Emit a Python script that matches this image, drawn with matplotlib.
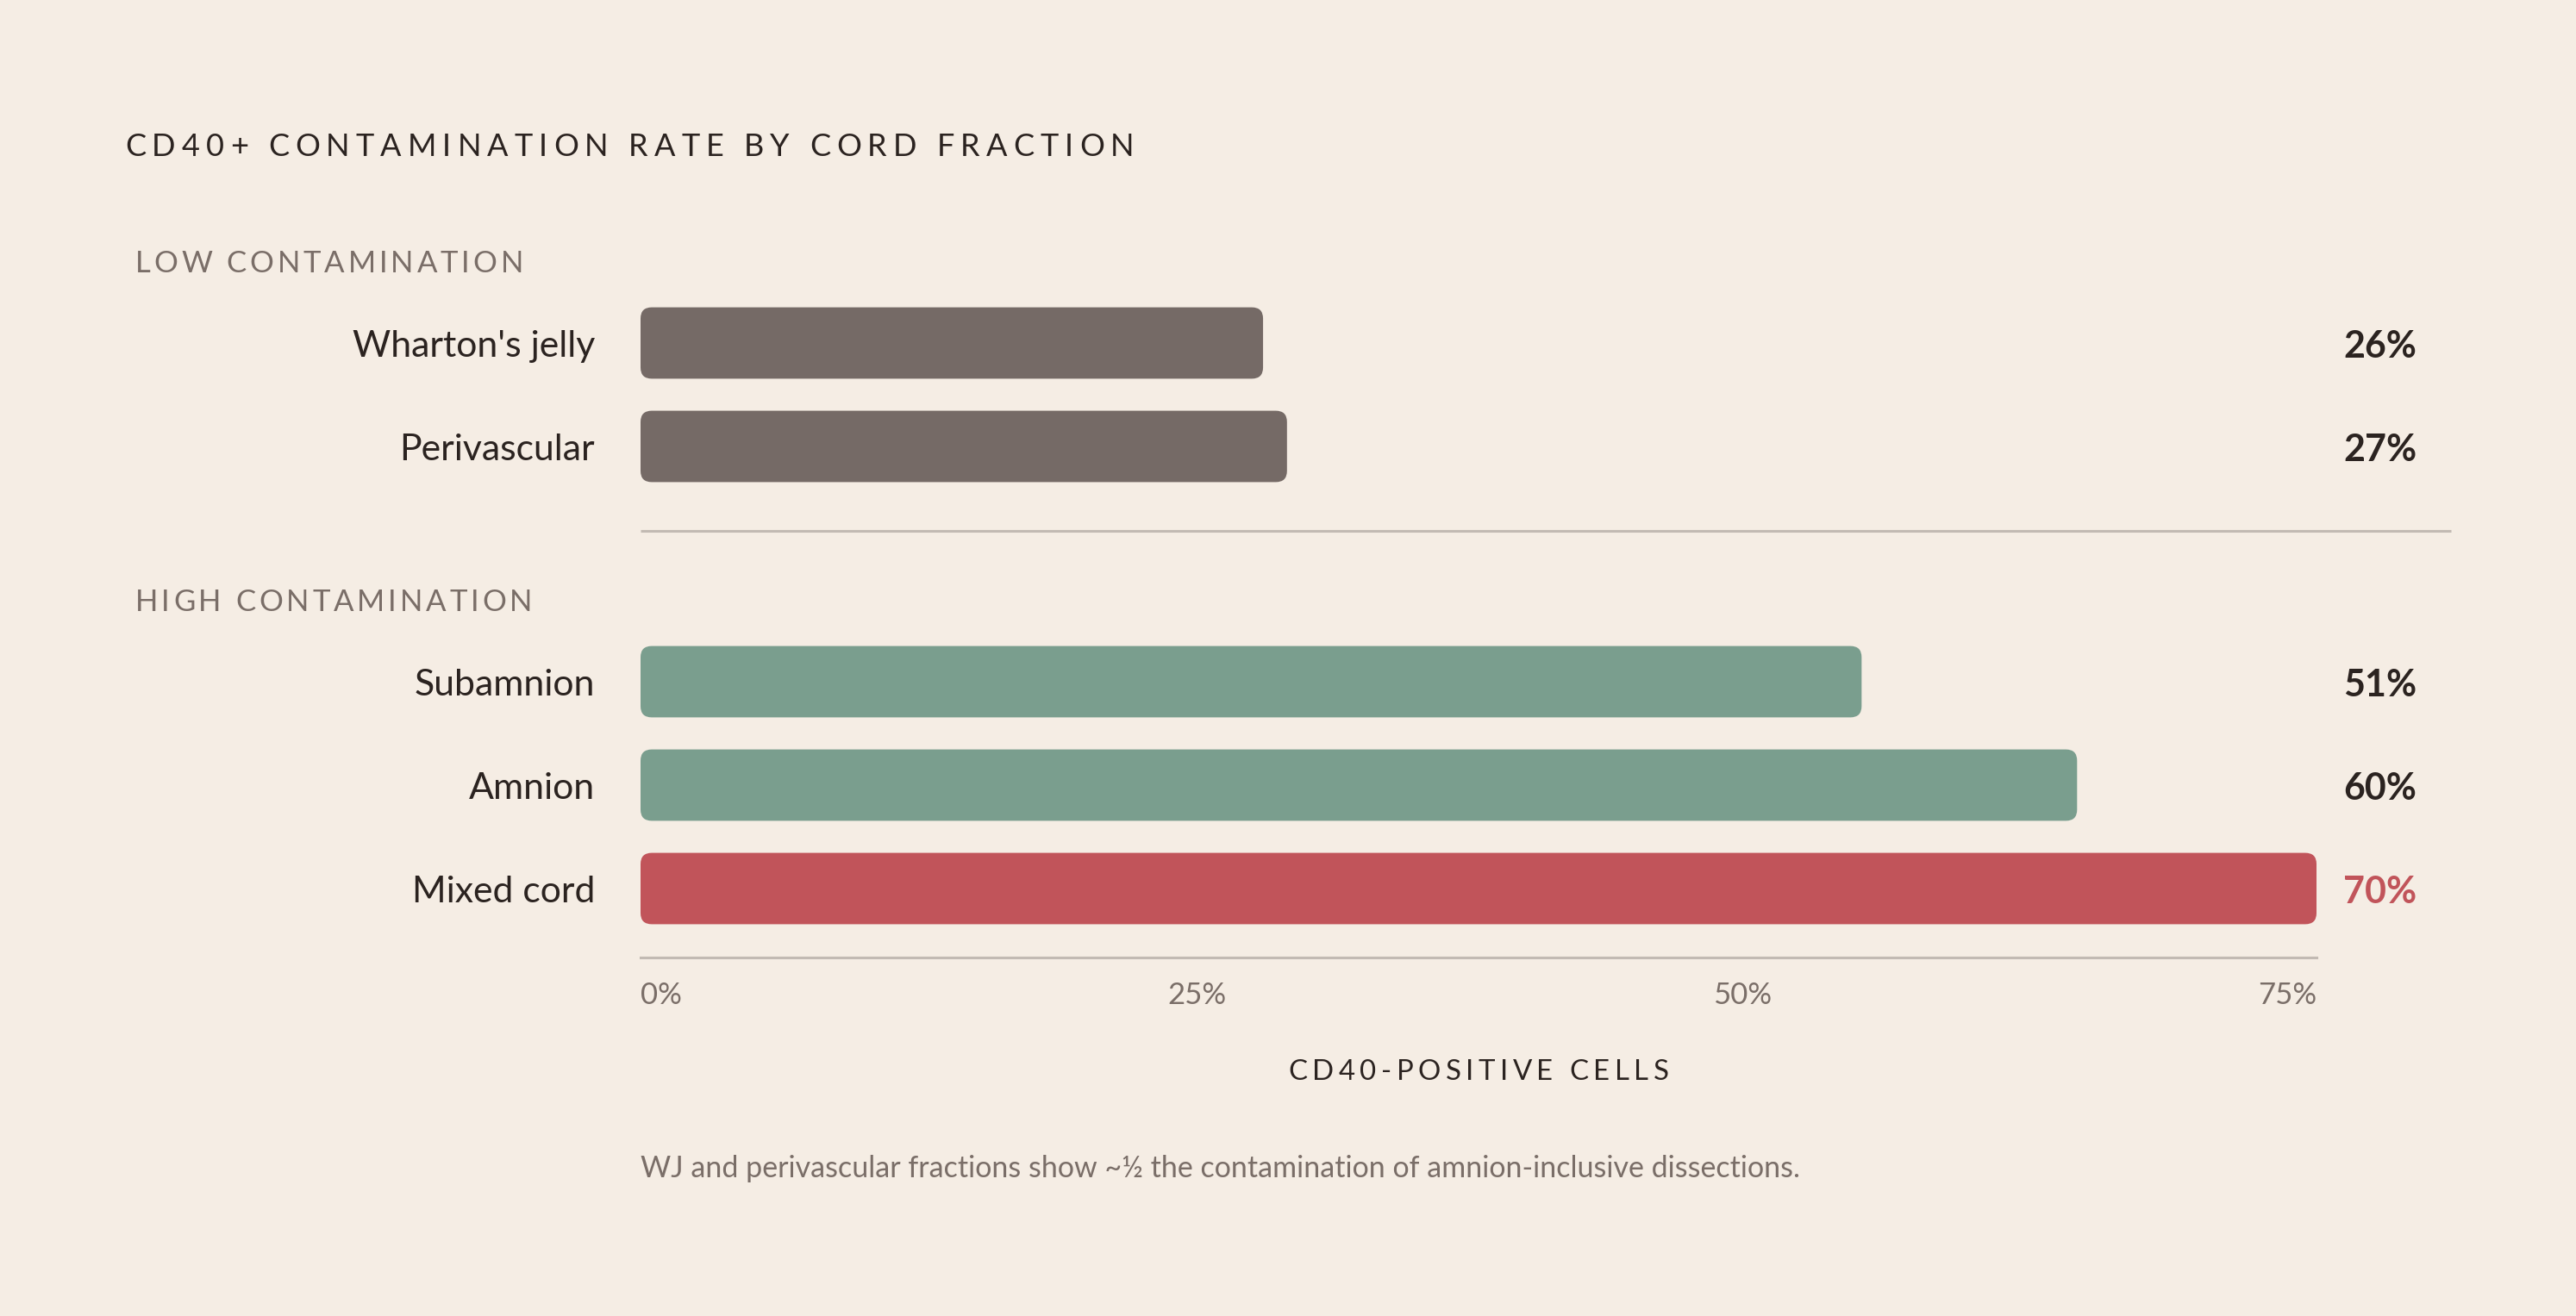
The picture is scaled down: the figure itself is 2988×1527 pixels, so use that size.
import matplotlib
matplotlib.use("Agg")
import matplotlib.pyplot as plt
from matplotlib import font_manager
from matplotlib.ft2font import FT2Font
from matplotlib.patches import FancyBboxPatch
from matplotlib.transforms import IdentityTransform, blended_transform_factory

try:
    from matplotlib.ft2font import LoadFlags
    NO_HINT = LoadFlags.NO_HINTING
except ImportError:
    from matplotlib.ft2font import LOAD_NO_HINTING as NO_HINT

# data
categories = ["Wharton's jelly", "Perivascular", "Subamnion", "Amnion", "Mixed cord"]
values = [26, 27, 51, 60, 70]
group_of = [0, 0, 1, 1, 1]
group_names = ["LOW CONTAMINATION", "HIGH CONTAMINATION"]
tick_labels = ["0%", "25%", "50%", "75%"]
title = "CD40+ CONTAMINATION RATE BY CORD FRACTION"
x_title = "CD40-POSITIVE CELLS"
note = "WJ and perivascular fractions show ~\u00bd the contamination of amnion-inclusive dissections."

# style
bar_colors = ["#756a66", "#756a66", "#7a9e8e", "#7a9e8e", "#c1545a"]
value_colors = ["#2b2320", "#2b2320", "#2b2320", "#2b2320", "#c1545a"]
BG = "#f5ede4"
DARK = "#2b2320"
MUTED = "#7a6e68"
RULE = "#c2bab3"

W, H, DPI = 2988, 1527, 100
FONT = "Lato"

# layout in pixels (from top-left)
ax_left, ax_right, ax_top, ax_bottom = 743, 2687, 338, 1111
row_px = 120
group_gap = 1.275      # extra rows between groups
bar_h = 0.69
radius_px = 13
label_dy = 0.033       # text sits a touch below the bar centre


def font_file(weight="normal"):
    return font_manager.findfont(font_manager.FontProperties(family=FONT, weight=weight))


def advances(s, size, weight="normal"):
    f = FT2Font(font_file(weight))
    f.set_size(size, DPI)
    return [f.load_char(ord(c), flags=NO_HINT).linearHoriAdvance / 65536 for c in s]


def spaced(x, y, s, size, track, color, ha="left", weight="normal"):
    # letter-spaced text, x/y in output pixels from top-left, y is the cap-height centre
    adv = advances(s, size, weight)
    em = size * DPI / 72
    total = sum(adv) + track * em * (len(s) - 1)
    if ha == "center":
        x -= total / 2
    base = H - (y + 0.7165 * em / 2)
    for c, a in zip(s, adv):
        if c != " ":
            fig.text(x, base, c, transform=IdentityTransform(), fontsize=size,
                     family=FONT, weight=weight, color=color, va="baseline", ha="left")
        x += a + track * em


fig = plt.figure(figsize=(W / DPI, H / DPI), dpi=DPI, facecolor=BG)
ax = fig.add_axes([ax_left / W, 1 - ax_bottom / H,
                   (ax_right - ax_left) / W, (ax_bottom - ax_top) / H])
ax.set_facecolor(BG)

ax_w = ax_right - ax_left
ax_h = ax_bottom - ax_top
xmax = max(values)
ax.set_xlim(0, xmax)
ax.set_ylim(ax_h / row_px, 0)

pos = [0.5 + i + g * group_gap for i, g in enumerate(group_of)]

# rounded bars
aspect = (1 / row_px) / (xmax / ax_w)
r_x = radius_px * xmax / ax_w
for p, v, c in zip(pos, values, bar_colors):
    ax.add_patch(FancyBboxPatch((0, p - bar_h / 2), v, bar_h,
                                boxstyle=f"round,pad=0,rounding_size={r_x}",
                                mutation_aspect=aspect, fc=c, ec="none"))

bt = blended_transform_factory(ax.transAxes, ax.transData)

# category labels and values
for p, name, v, vc in zip(pos, categories, values, value_colors):
    ax.text(-53 / ax_w, p + label_dy, name, transform=bt, ha="right", va="center",
            fontsize=30.8, family=FONT, color=DARK)
    ax.text(1 + 116 / ax_w, p + label_dy, f"{v}%", transform=bt, ha="right", va="center",
            fontsize=31, family=FONT, weight="bold", color=vc)

# group labels and divider
for g, gname in enumerate(group_names):
    first = pos[group_of.index(g)]
    y_px = ax_top + (first - 0.79) * row_px
    spaced(157, y_px, gname, 25, 0.11, MUTED)
last_low = pos[len(group_of) - 1 - group_of[::-1].index(0)]
ax.plot([0, 1 + 156 / ax_w], [last_low + 0.817] * 2, transform=bt, color=RULE,
        lw=2.2, clip_on=False, solid_capstyle="butt")

# axis
for side in ["top", "right", "left"]:
    ax.spines[side].set_visible(False)
ax.spines["bottom"].set_color(RULE)
ax.spines["bottom"].set_linewidth(2.2)
ax.set_xticks([])
ax.set_yticks([])

# tick labels spread edge to edge
tw = [sum(advances(t, 25)) for t in tick_labels]
gap = (ax_w - sum(tw)) / (len(tick_labels) - 1)
xx = 0
for t, w_ in zip(tick_labels, tw):
    ax.text(xx / ax_w, -44 / ax_h, t, transform=ax.transAxes, ha="left", va="center",
            fontsize=25, family=FONT, color=MUTED)
    xx += w_ + gap

spaced((ax_left + ax_right) / 2, 1241, x_title, 23.8, 0.165, DARK, ha="center")
spaced(145, 168, title, 26, 0.195, DARK)

ax.text(0, -(1356 - ax_bottom) / ax_h, note, transform=ax.transAxes, ha="left",
        va="center", fontsize=24.5, family=FONT, color=MUTED)

fig.savefig("out.png", dpi=DPI, facecolor=BG)
